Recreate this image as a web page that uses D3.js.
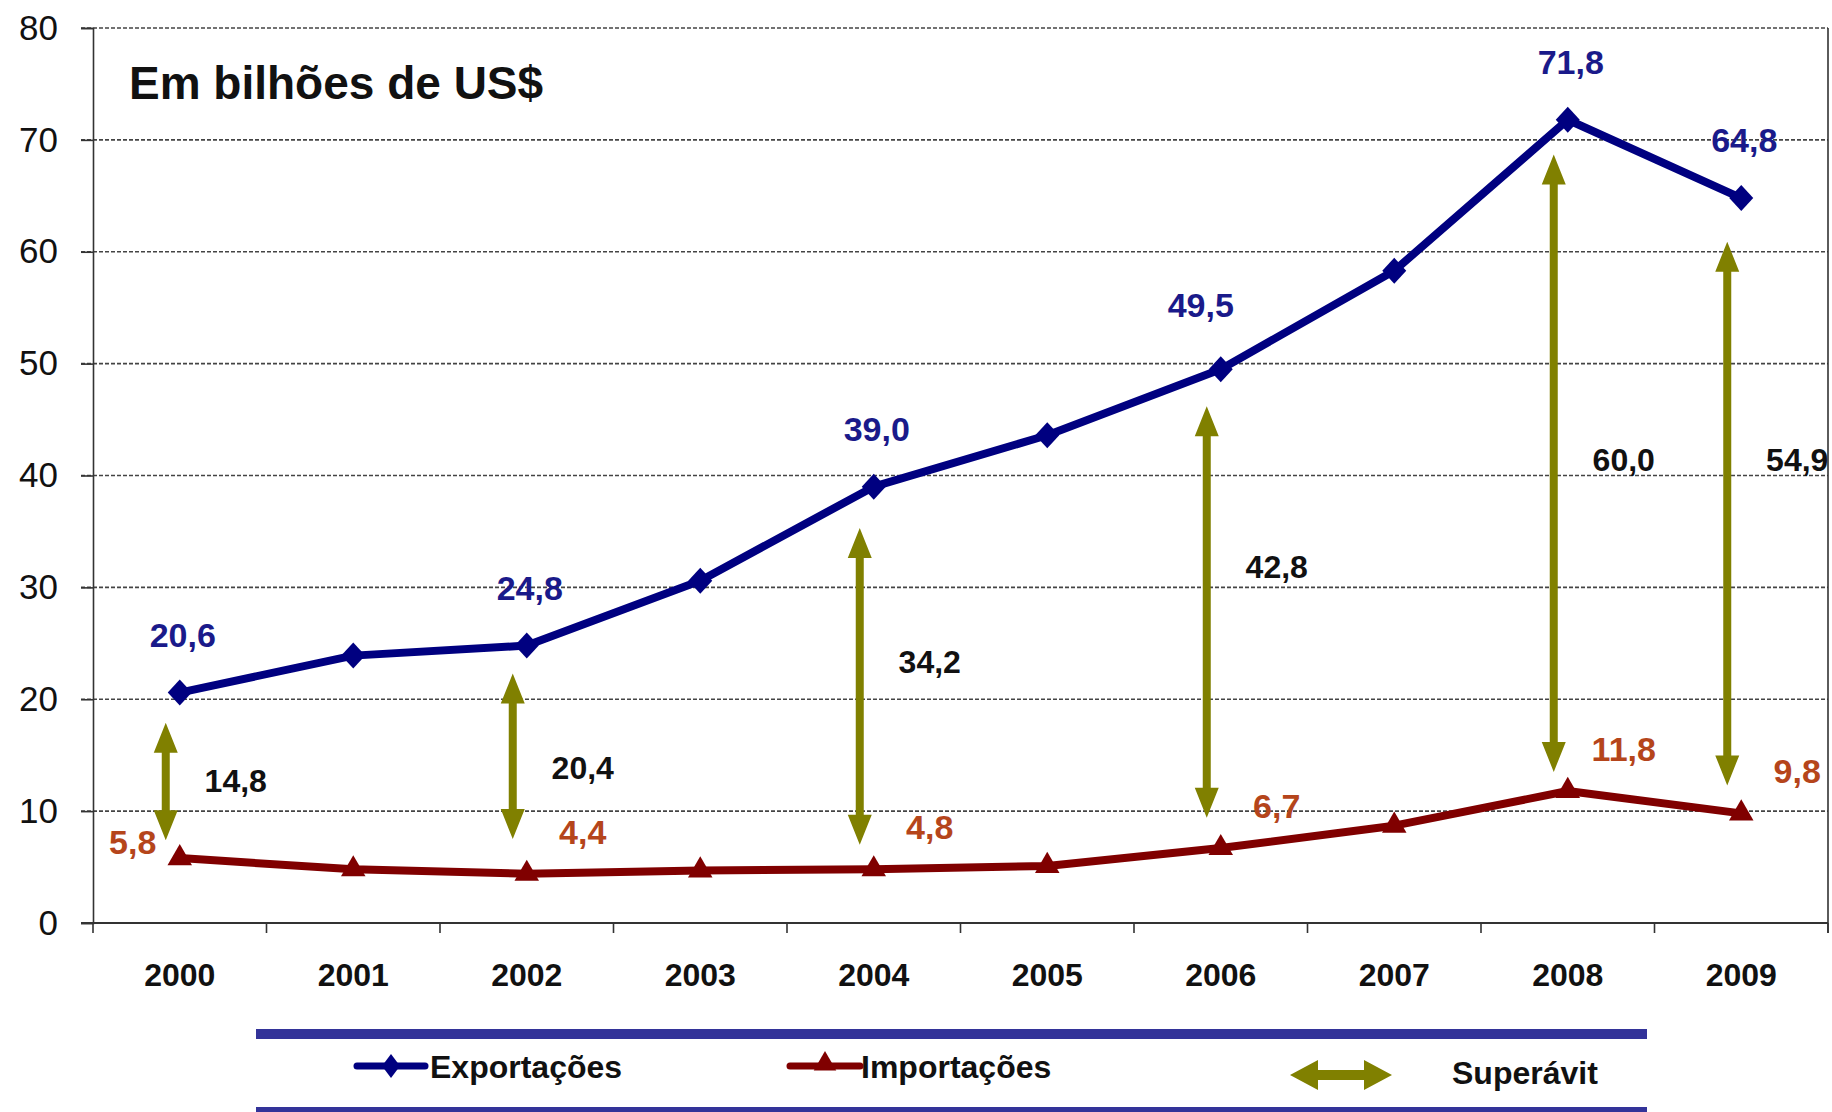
<!DOCTYPE html>
<html>
<head>
<meta charset="utf-8">
<script src="https://cdn.jsdelivr.net/npm/d3@7/dist/d3.min.js"></script>
<style>
  body { margin: 0; background: #fff; }
  text { font-family: "Liberation Sans", Arial, sans-serif; }
</style>
</head>
<body>
<svg width="1832" height="1112"></svg>
<script>
// data
var years = ["2000","2001","2002","2003","2004","2005","2006","2007","2008","2009"];
var exportacoes = [20.6, 23.9, 24.8, 30.6, 39.0, 43.6, 49.5, 58.3, 71.8, 64.8];
var importacoes = [5.8, 4.8, 4.4, 4.7, 4.8, 5.1, 6.7, 8.7, 11.8, 9.8];
var exportLabels = ["20,6", "", "24,8", "", "39,0", "", "49,5", "", "71,8", "64,8"];
var importLabels = ["5,8", "", "4,4", "", "4,8", "", "6,7", "", "11,8", "9,8"];
var surplusYears = ["2000","2002","2004","2006","2008","2009"];
var surplusLabels = ["14,8", "20,4", "34,2", "42,8", "60,0", "54,9"];
var arrowTop = [17.9, 22.3, 35.3, 46.2, 68.7, 60.9];
var arrowBottom = [7.4, 7.5, 7.0, 9.4, 13.5, 12.3];
var surplusLabelAt = [12.8, 13.9, 23.4, 31.9, 41.5, 41.5];
var yTicks = [0, 10, 20, 30, 40, 50, 60, 70, 80];

var plotLeft = 93, plotRight = 1828, plotTop = 28, plotBottom = 923;
var svg = d3.select("svg");

var x = d3.scaleBand().domain(years).range([plotLeft, plotRight]);
var y = d3.scaleLinear().domain([0, 80]).range([plotBottom, plotTop]);
var cx = function (yr) { return x(yr) + x.bandwidth() / 2; };

// grid lines
svg.append("g").selectAll("line")
  .data(yTicks.filter(function (d) { return d > 0; }))
  .enter().append("line")
    .attr("x1", plotLeft - 12).attr("x2", plotRight)
    .attr("y1", function (d) { return y(d); })
    .attr("y2", function (d) { return y(d); })
    .attr("stroke", "#444").attr("stroke-width", 1.6)
    .attr("stroke-dasharray", "4,2");

// y axis
var ya = svg.append("g")
  .attr("transform", "translate(" + plotLeft + ",0)")
  .call(d3.axisLeft(y).tickValues(yTicks).tickSize(12).tickPadding(23).tickFormat(d3.format("d")));
ya.select(".domain").attr("stroke", "#333").attr("stroke-width", 1.6);
ya.selectAll(".tick line").attr("stroke", "#333").attr("stroke-width", 1.6);
ya.selectAll("text").attr("font-size", 35).attr("fill", "#111");

// right border
svg.append("line").attr("x1", plotRight).attr("x2", plotRight).attr("y1", plotTop).attr("y2", plotBottom + 10)
  .attr("stroke", "#333").attr("stroke-width", 1.6);

// x axis
var xa = svg.append("g")
  .attr("transform", "translate(0," + plotBottom + ")")
  .call(d3.axisBottom(x).tickSize(0).tickPadding(40));
xa.select(".domain").remove();
xa.selectAll("text").attr("font-size", 32).attr("font-weight", "bold").attr("fill", "#111");
svg.append("line").attr("x1", plotLeft - 12).attr("x2", plotRight).attr("y1", plotBottom).attr("y2", plotBottom)
  .attr("stroke", "#333").attr("stroke-width", 2);
var bounds = years.map(function (yr) { return x(yr); }).concat([plotRight]);
svg.append("g").selectAll("line").data(bounds).enter().append("line")
  .attr("x1", function (d) { return d; }).attr("x2", function (d) { return d; })
  .attr("y1", plotBottom).attr("y2", plotBottom + 10)
  .attr("stroke", "#333").attr("stroke-width", 1.6);

// title
svg.append("text").attr("x", 129).attr("y", 99)
  .attr("font-size", 46).attr("font-weight", "bold").attr("fill", "#111")
  .text("Em bilhões de US$");

// surplus arrows
function arrowV(xc, y1, y2, sw, hw, hl) {
  return "M" + xc + "," + y1 +
    "L" + (xc + hw / 2) + "," + (y1 + hl) + "L" + (xc + sw / 2) + "," + (y1 + hl) +
    "L" + (xc + sw / 2) + "," + (y2 - hl) + "L" + (xc + hw / 2) + "," + (y2 - hl) +
    "L" + xc + "," + y2 +
    "L" + (xc - hw / 2) + "," + (y2 - hl) + "L" + (xc - sw / 2) + "," + (y2 - hl) +
    "L" + (xc - sw / 2) + "," + (y1 + hl) + "L" + (xc - hw / 2) + "," + (y1 + hl) + "Z";
}
var olive = "#808000";
svg.append("g").selectAll("path").data(surplusYears).enter().append("path")
  .attr("d", function (yr, i) { return arrowV(cx(yr) - 14, y(arrowTop[i]), y(arrowBottom[i]), 8, 24, 30); })
  .attr("fill", olive);
svg.append("g").selectAll("text").data(surplusYears).enter().append("text")
  .attr("x", function (yr) { return cx(yr) - 14 + 70; })
  .attr("y", function (yr, i) { return y(surplusLabelAt[i]) + 12; })
  .attr("text-anchor", "middle").attr("font-size", 32).attr("font-weight", "bold").attr("fill", "#111")
  .text(function (yr, i) { return surplusLabels[i]; });

// lines
var blue = "#000080", red = "#800000";
var line = d3.line().x(function (d, i) { return cx(years[i]); }).y(function (d) { return y(d); });
svg.append("path").datum(exportacoes).attr("d", line)
  .attr("fill", "none").attr("stroke", blue).attr("stroke-width", 8).attr("stroke-linejoin", "round");
svg.append("path").datum(importacoes).attr("d", line)
  .attr("fill", "none").attr("stroke", red).attr("stroke-width", 8).attr("stroke-linejoin", "round");

function diamond(w, h) {
  return "M0," + (-h) + "L" + w + ",0L0," + h + "L" + (-w) + ",0Z";
}
svg.append("g").selectAll("path").data(exportacoes).enter().append("path")
  .attr("transform", function (d, i) { return "translate(" + cx(years[i]) + "," + y(d) + ")"; })
  .attr("d", diamond(12, 13)).attr("fill", blue);
var tri = d3.symbol().type(d3.symbolTriangle).size(260);
svg.append("g").selectAll("path").data(importacoes).enter().append("path")
  .attr("transform", function (d, i) { return "translate(" + cx(years[i]) + "," + y(d) + ")"; })
  .attr("d", tri).attr("fill", red);

// value labels
svg.append("g").selectAll("text").data(exportacoes).enter().append("text")
  .attr("x", function (d, i) { return cx(years[i]) + (i === 6 ? -20 : 3); })
  .attr("y", function (d, i) { return y(d) - (i === 6 ? 52 : 46); })
  .attr("text-anchor", "middle").attr("font-size", 34).attr("font-weight", "bold").attr("fill", "#1a1a8a")
  .text(function (d, i) { return exportLabels[i]; });
svg.append("g").selectAll("text").data(importacoes).enter().append("text")
  .attr("x", function (d, i) { return cx(years[i]) + (i === 0 ? -47 : 56); })
  .attr("y", function (d, i) { return y(d) + (i === 0 ? -4 : -30); })
  .attr("text-anchor", "middle").attr("font-size", 34).attr("font-weight", "bold").attr("fill", "#b5451b")
  .text(function (d, i) { return importLabels[i]; });

// legend
var legendBar = "#333399";
svg.append("rect").attr("x", 256).attr("y", 1029).attr("width", 1391).attr("height", 10).attr("fill", legendBar);
svg.append("rect").attr("x", 256).attr("y", 1107).attr("width", 1391).attr("height", 10).attr("fill", legendBar);
var lg = svg.append("g");
lg.append("line").attr("x1", 357).attr("x2", 425).attr("y1", 1066).attr("y2", 1066)
  .attr("stroke", blue).attr("stroke-width", 7).attr("stroke-linecap", "round");
lg.append("path").attr("transform", "translate(391,1066)").attr("d", diamond(9, 12)).attr("fill", blue);
lg.append("text").attr("x", 430).attr("y", 1078).attr("font-size", 32).attr("font-weight", "bold").attr("fill", "#111").text("Exportações");
lg.append("line").attr("x1", 790).attr("x2", 860).attr("y1", 1066).attr("y2", 1066)
  .attr("stroke", red).attr("stroke-width", 7).attr("stroke-linecap", "round");
lg.append("path").attr("transform", "translate(825,1064)").attr("d", d3.symbol().type(d3.symbolTriangle).size(220)).attr("fill", red);
lg.append("text").attr("x", 861).attr("y", 1078).attr("font-size", 32).attr("font-weight", "bold").attr("fill", "#111").text("Importações");
lg.append("path").attr("transform", "translate(1341,1075) rotate(90)")
  .attr("d", arrowV(0, -51, 51, 10, 30, 28)).attr("fill", olive);
lg.append("text").attr("x", 1452).attr("y", 1084).attr("font-size", 32).attr("font-weight", "bold").attr("fill", "#111").text("Superávit");
</script>
</body>
</html>
